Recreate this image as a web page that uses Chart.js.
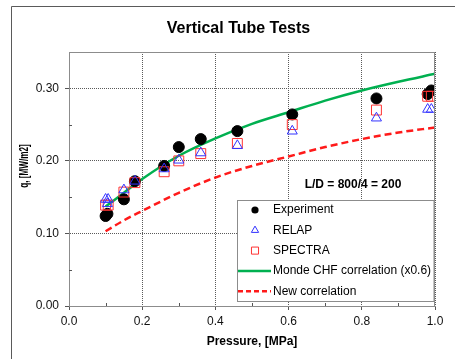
<!DOCTYPE html>
<html>
<head>
<meta charset="utf-8">
<title>Vertical Tube Tests</title>
<script src="https://cdn.jsdelivr.net/npm/chart.js@4.4.0/dist/chart.umd.min.js"></script>
<style>
    html, body { margin: 0; padding: 0; background: #fff; }
</style>
</head>
<body>
<canvas id="grafik" width="455" height="359"></canvas>
<script>
// olcum noktalari (basinc MPa, isi akisi MW/m2)
const expP = [0.10, 0.105, 0.15, 0.18, 0.26, 0.30, 0.36, 0.46, 0.61, 0.84, 0.98, 0.99];
const expQ = [0.124, 0.127, 0.147, 0.172, 0.193, 0.219, 0.230, 0.241, 0.264, 0.286, 0.292, 0.297];

const relapP = [0.10, 0.107, 0.105, 0.15, 0.18, 0.26, 0.30, 0.36, 0.46, 0.61, 0.84, 0.98, 0.99];
const relapQ = [0.147, 0.147, 0.141, 0.160, 0.172, 0.189, 0.201, 0.211, 0.221, 0.241, 0.259, 0.271, 0.271];

const spectraP = [0.10, 0.107, 0.15, 0.18, 0.26, 0.30, 0.36, 0.46, 0.61, 0.84, 0.98, 0.99];
const spectraQ = [0.139, 0.139, 0.157, 0.170, 0.185, 0.200, 0.210, 0.224, 0.250, 0.270, 0.289, 0.289];

// korelasyon egrileri
const korP = [0.10, 0.15, 0.20, 0.30, 0.40, 0.50, 0.60, 0.70, 0.80, 0.90, 1.00];
const mondeQ = [0.137, 0.156, 0.175, 0.207, 0.231, 0.251, 0.267, 0.283, 0.297, 0.309, 0.320];
const yeniQ = [0.103, 0.118, 0.131, 0.156, 0.177, 0.193, 0.206, 0.219, 0.230, 0.239, 0.246];

const xTicks = [0.0, 0.2, 0.4, 0.6, 0.8, 1.0];
const yTicks = [0.00, 0.10, 0.20, 0.30];

const nokta = (xs, ys) => xs.map((x, i) => ({ x: x, y: ys[i] }));
const yakin = (v, list) => list.some(t => Math.abs(t - v) < 1e-6);

const FONT = '"Liberation Sans", Arial, Helvetica, sans-serif';
Chart.defaults.font.family = FONT;
Chart.defaults.color = '#000';

function isaret(ctx, stil, r, x, y) {
    ctx.beginPath();
    if (stil === 'circle') {
        ctx.arc(x, y, r, 0, Math.PI * 2);
        ctx.fill();
    } else if (stil === 'triangle') {
        const w = r * Math.sqrt(3) / 2;
        ctx.moveTo(x, y - r);
        ctx.lineTo(x + w, y + r / 2);
        ctx.lineTo(x - w, y + r / 2);
        ctx.closePath();
        ctx.stroke();
    } else {
        const s = r * Math.SQRT2 / 2;
        ctx.rect(x - s, y - s, 2 * s, 2 * s);
        ctx.stroke();
    }
}

// dis cerceve, baslik, grafik kutusu, ic kisa tikler, eksen basligi, yazi ve lejant
const ekler = {
    id: 'ekler',
    beforeDraw(chart) {
        const ctx = chart.ctx;
        ctx.save();
        ctx.strokeStyle = '#5a5a5a';
        ctx.lineWidth = 1;
        ctx.beginPath();
        ctx.moveTo(11.5, chart.height);
        ctx.lineTo(11.5, 6.5);
        ctx.lineTo(chart.width, 6.5);
        ctx.stroke();

        ctx.font = 'bold 16px ' + FONT;
        ctx.fillStyle = '#000';
        ctx.textAlign = 'center';
        ctx.textBaseline = 'middle';
        ctx.fillText('Vertical Tube Tests', 238.5, 29);
        ctx.restore();
    },
    afterDraw(chart) {
        const ctx = chart.ctx;
        const a = chart.chartArea;
        const sx = chart.scales.x, sy = chart.scales.y;
        ctx.save();

        ctx.strokeStyle = '#8c8c8c';
        ctx.lineWidth = 1;
        ctx.strokeRect(Math.round(a.left) + 0.5, Math.round(a.top) + 0.5,
            Math.round(a.right - a.left) - 1, Math.round(a.bottom - a.top));

        // ara tikler ice dogru
        ctx.strokeStyle = '#555';
        ctx.beginPath();
        sx.ticks.forEach(t => {
            if (yakin(t.value, xTicks)) return;
            const px = Math.round(sx.getPixelForValue(t.value)) + 0.5;
            ctx.moveTo(px, a.bottom);
            ctx.lineTo(px, a.bottom - 3);
        });
        sy.ticks.forEach(t => {
            if (yakin(t.value, yTicks) || t.value > 0.34) return;
            const py = Math.round(sy.getPixelForValue(t.value)) + 0.5;
            ctx.moveTo(a.left, py);
            ctx.lineTo(a.left + 3, py);
        });
        ctx.stroke();

        // y ekseni basligi
        ctx.save();
        ctx.translate(25, 166);
        ctx.rotate(-Math.PI / 2);
        ctx.scale(0.68, 1);
        ctx.font = 'bold 12px ' + FONT;
        ctx.fillStyle = '#000';
        ctx.textAlign = 'center';
        ctx.textBaseline = 'middle';
        ctx.fillText('q, [MW/m2]', 0, 0);
        ctx.restore();

        ctx.font = 'bold 12px ' + FONT;
        ctx.fillStyle = '#000';
        ctx.textAlign = 'center';
        ctx.textBaseline = 'middle';
        ctx.fillText('L/D = 800/4 = 200', 353, 185);

        // lejant
        const lx = 237.5, ly = 200.5;
        ctx.fillStyle = '#fff';
        ctx.fillRect(lx, ly, Math.round(a.right) - 1 - lx, 101);
        ctx.strokeStyle = '#8c8c8c';
        ctx.lineWidth = 1;
        ctx.strokeRect(lx, ly, Math.round(a.right) - 1 - lx, 101);

        ctx.font = '12px ' + FONT;
        ctx.textAlign = 'left';
        chart.data.datasets.forEach((ds, i) => {
            const y = 210 + i * 20.3;
            ctx.save();
            if (ds.showLine) {
                ctx.strokeStyle = ds.borderColor;
                ctx.lineWidth = ds.borderWidth;
                ctx.setLineDash(ds.borderDash ? [5, 3] : []);
                ctx.beginPath();
                ctx.moveTo(238, y);
                ctx.lineTo(271, y);
                ctx.stroke();
            } else {
                ctx.fillStyle = ds.pointBackgroundColor;
                ctx.strokeStyle = ds.pointBorderColor;
                ctx.lineWidth = 1;
                isaret(ctx, ds.pointStyle, ds.lejantR, 255, y);
            }
            ctx.restore();
            ctx.fillStyle = '#000';
            ctx.fillText(ds.label, 273, y);
        });
        ctx.restore();
    }
};

const grf = document.getElementById('grafik').getContext('2d');

const veri = {
    datasets: [{
        label: 'Experiment',
        data: nokta(expP, expQ),
        pointStyle: 'circle',
        pointRadius: 5.5,
        pointBorderWidth: 1,
        pointBackgroundColor: '#000',
        pointBorderColor: '#000',
        lejantR: 3.6,
        showLine: false,
        order: 3
    }, {
        label: 'RELAP',
        data: nokta(relapP, relapQ),
        pointStyle: 'triangle',
        pointRadius: 5.8,
        pointBorderWidth: 1,
        pointBackgroundColor: 'rgba(0,0,0,0)',
        pointBorderColor: '#3333ff',
        lejantR: 4.2,
        showLine: false,
        order: 1
    }, {
        label: 'SPECTRA',
        data: nokta(spectraP, spectraQ),
        pointStyle: 'rect',
        pointRadius: 7,
        pointBorderWidth: 1,
        pointBackgroundColor: 'rgba(0,0,0,0)',
        pointBorderColor: '#ff3333',
        lejantR: 5,
        showLine: false,
        order: 2
    }, {
        label: 'Monde CHF correlation (x0.6)',
        data: nokta(korP, mondeQ),
        showLine: true,
        borderColor: '#00b050',
        borderWidth: 2.5,
        pointRadius: 0,
        cubicInterpolationMode: 'monotone',
        order: 4
    }, {
        label: 'New correlation',
        data: nokta(korP, yeniQ),
        showLine: true,
        borderColor: '#ff1a1a',
        borderWidth: 2.5,
        borderDash: [7, 4],
        pointRadius: 0,
        cubicInterpolationMode: 'monotone',
        order: 5
    }]
};

const con = {
    type: 'scatter',
    data: veri,
    options: {
        responsive: false,
        animation: false,
        layout: { padding: { left: 0, right: 20, top: 52, bottom: 0 } },
        plugins: {
            legend: { display: false },
            tooltip: { enabled: false },
            title: { display: false }
        },
        scales: {
            x: {
                type: 'linear',
                min: 0,
                max: 1,
                afterFit: s => { s.height = 53; },
                ticks: {
                    stepSize: 0.1,
                    autoSkip: false,
                    maxRotation: 0,
                    padding: 4,
                    color: '#111',
                    font: { size: 12 },
                    callback: v => yakin(v, xTicks) ? v.toFixed(1) : ''
                },
                grid: {
                    color: c => c.tick && yakin(c.tick.value, xTicks) ? '#5a5a5a' : 'rgba(0,0,0,0)',
                    tickColor: c => c.tick && yakin(c.tick.value, xTicks) ? '#555' : 'rgba(0,0,0,0)',
                    tickLength: 4
                },
                border: { color: '#8c8c8c', dash: [1, 1] },
                title: {
                    display: true,
                    text: 'Pressure, [MPa]',
                    color: '#000',
                    font: { size: 12, weight: 'bold' },
                    padding: { top: 0, bottom: 10 }
                }
            },
            y: {
                type: 'linear',
                min: 0,
                max: 0.35,
                afterFit: s => { s.width = 69; },
                ticks: {
                    stepSize: 0.05,
                    autoSkip: false,
                    padding: 6,
                    color: '#111',
                    font: { size: 12 },
                    callback: v => yakin(v, yTicks) ? v.toFixed(2) : ''
                },
                grid: {
                    color: c => c.tick && yakin(c.tick.value, yTicks) ? '#5a5a5a' : 'rgba(0,0,0,0)',
                    tickColor: c => c.tick && yakin(c.tick.value, yTicks) ? '#555' : 'rgba(0,0,0,0)',
                    tickLength: 4
                },
                border: { color: '#8c8c8c', dash: [1, 1] }
            }
        }
    },
    plugins: [ekler]
};

new Chart(grf, con);
</script>
</body>
</html>
